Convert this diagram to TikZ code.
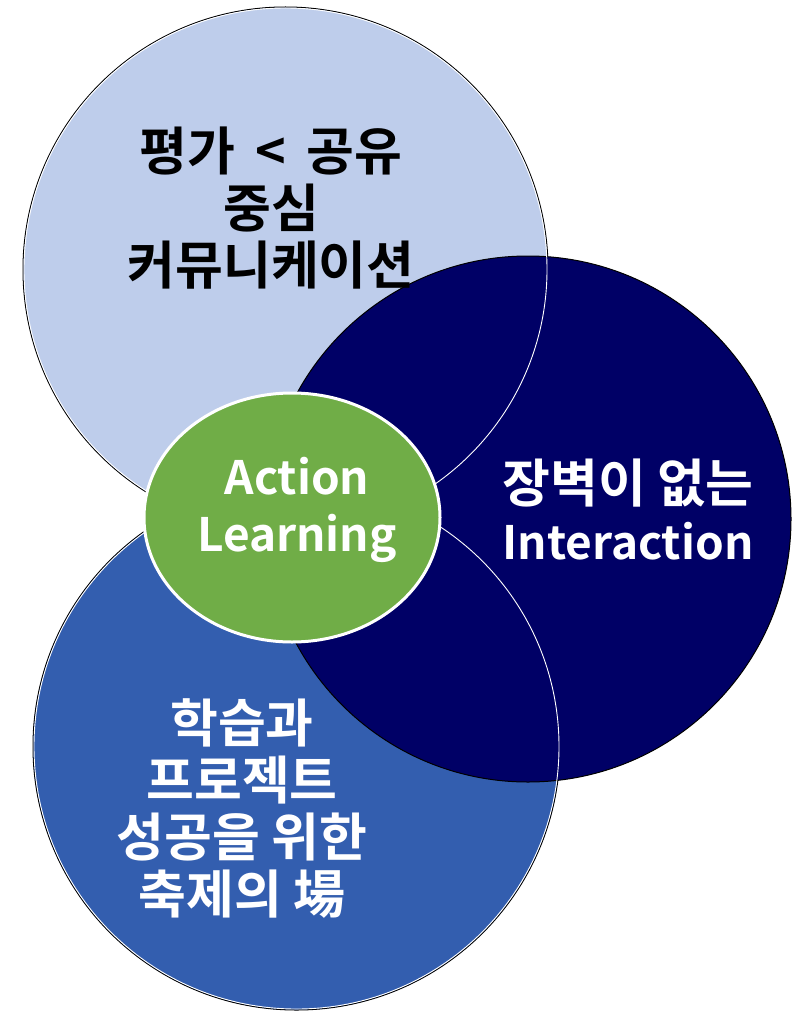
\documentclass[tikz,border=0pt]{standalone}
\usepackage{fontspec}
\usepackage{tikz}
\usetikzlibrary{shapes.geometric}
\newfontfamily\kr{Noto Sans CJK KR}[BoldFont={Noto Sans CJK KR Bold}]
\definecolor{paleblue}{RGB}{190,205,235}
\definecolor{midblue}{RGB}{51,94,175}
\definecolor{deepnavy}{RGB}{0,0,102}
\definecolor{leafgreen}{RGB}{112,173,71}
\newcommand{\hangul}{\fontsize{52}{57}\selectfont}
\newcommand{\latin}{\fontsize{46}{57}\selectfont}

\begin{document}
\begin{tikzpicture}[x=1pt,y=-1pt,
    ring/.style={circle,draw=black,line width=1pt,inner sep=0pt},
    txt/.style={font=\kr\bfseries\hangul,align=center}]
  \useasboundingbox (0,0) rectangle (794,1011);
  \node[ring,fill=paleblue,minimum size=525pt] (share) at (285.5,269.5) {};
  \node[ring,fill=midblue,minimum size=527pt] (fest) at (296.5,746.5) {};
  \node[ring,fill=deepnavy,minimum size=526pt] (wall) at (528,519) {};
  \draw[white,line width=0.9pt] (share.center) circle[radius=261.5pt];
  \draw[white,line width=0.9pt] (fest.center) circle[radius=262.5pt];
  \node[ellipse,draw=white,line width=3pt,fill=leafgreen,minimum width=296pt,minimum height=249pt] (core) at (292,517.5) {};
  \node[txt,text=black] (sharetxt) at (271,208) {평가 \,<\, 공유\\중심\\커뮤니케이션};
  \node[txt,text=white] (walltxt) at (628,510) {\hangul 장벽이 없는\\\latin Interaction};
  \node[txt,text=white] (festtxt) at (242,809) {학습과\\프로젝트\\성공을 위한\\축제의 場};
  \node[txt,text=white] (coretxt) at (297,510) {\latin Action\\\latin Learning};
\end{tikzpicture}
\end{document}
